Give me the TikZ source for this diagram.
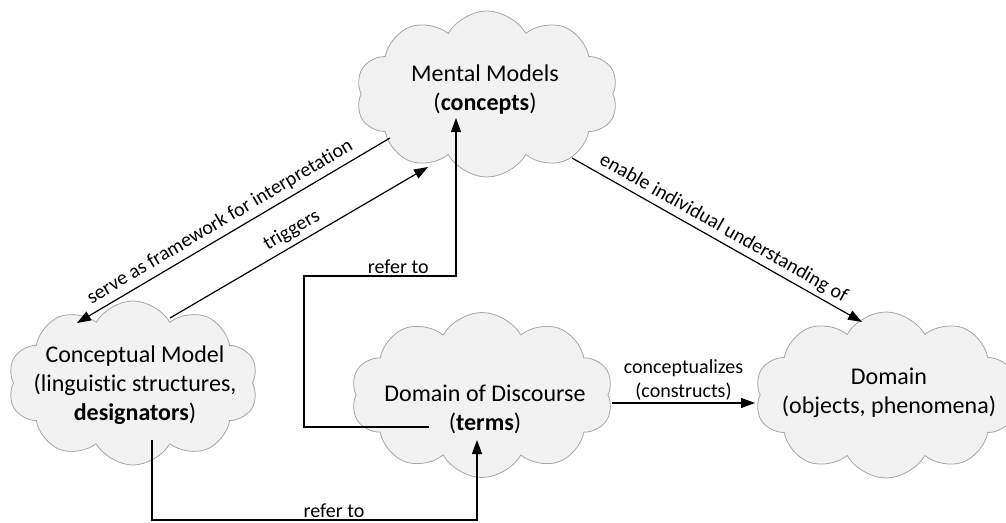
\documentclass[tikz,border=0pt]{standalone}
\usepackage{fontspec}
\setmainfont{Carlito}[Ligatures={NoCommon}]
\usetikzlibrary{shapes.symbols,arrows.meta}
\definecolor{cloudfill}{HTML}{F2F2F2}
\definecolor{cloudline}{HTML}{A6A6A6}
\begin{document}
\begin{tikzpicture}[x=1pt,y=-1pt,
  cloudbox/.style={cloud, cloud puffs=10, cloud puff arc=120, cloud ignores aspect,
    draw=cloudline, fill=cloudfill, line width=0.8pt, inner sep=0pt},
  bigtext/.style={align=center, font=\fontsize{24}{29}\selectfont, inner sep=0pt},
  lbl/.style={font=\fontsize{20}{24}\selectfont, inner sep=2pt, align=center},
  conn/.style={line width=1.2pt, draw=black},
  arr/.style={conn, -{Triangle[length=14pt,width=10pt]}}
]
\useasboundingbox (0,0) rectangle (1006,522);

% clouds
\node[cloudbox, minimum width=262pt, minimum height=166pt] (mm) at (487,94) {};
\node[cloudbox, minimum width=250pt, minimum height=164pt] (cm) at (133,383) {};
\node[cloudbox, minimum width=262pt, minimum height=165pt] (dd) at (482,395) {};
\node[cloudbox, minimum width=262pt, minimum height=166pt] (dom) at (886,395) {};

% texts
\node[bigtext] (mmtext) at (485,90) {Mental Models\\(\textbf{concepts})};
\node[bigtext] (cmtext) at (135,385) {Conceptual Model\\(linguistic structures,\\\textbf{designators})};
\node[bigtext] (ddtext) at (485,409) {Domain of Discourse\\(\textbf{terms})};
\node[bigtext] (domtext) at (889,393) {Domain\\(objects, phenomena)};

% attachment points
\coordinate (mmserve) at (390,138);
\coordinate (cmserve) at (77,323);
\coordinate (cmtrig) at (170,318);
\coordinate (mmtrig) at (428,167);
\coordinate (mmenable) at (572,158);
\coordinate (domenable) at (862,322);
\coordinate (ddconc) at (612,403);
\coordinate (domconc) at (755,403);
\coordinate (ddref) at (429,427);
\coordinate (ddbend) at (304,276);
\coordinate (mmref) at (456,118);
\coordinate (cmref) at (152,440);
\coordinate (lowbend) at (477,520);
\coordinate (ddin) at (477,440);

% connectors
\draw[arr] (mmserve) -- node[lbl, pos=0.52, above, sloped, inner sep=5pt] {serve as framework for interpretation} (cmserve);
\draw[arr] (cmtrig) -- node[lbl, midway, above, sloped, inner sep=5pt] {triggers} (mmtrig);
\draw[arr] (mmenable) -- node[lbl, midway, above, sloped, inner sep=4pt] {enable individual understanding of} (domenable);
\draw[arr] (ddconc) -- node[lbl, midway, above] {conceptualizes\\(constructs)} (domconc);
\draw[arr] (ddref) -| (ddbend) -| node[lbl, pos=0.31, above] {refer to} (mmref);
\draw[arr] (cmref) |- node[lbl, pos=0.78, above] {refer to} (lowbend) -- (ddin);
\end{tikzpicture}
\end{document}
